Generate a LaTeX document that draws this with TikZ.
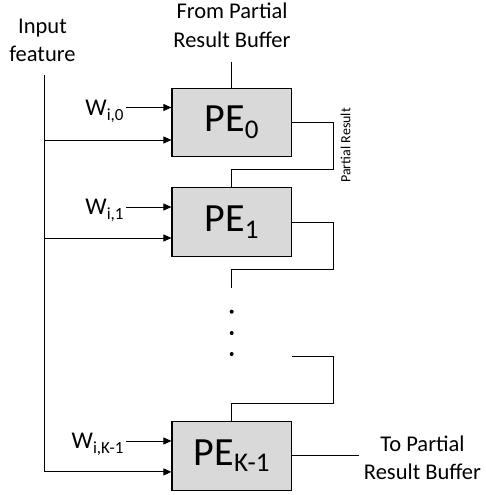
\documentclass[tikz,border=0pt]{standalone}
\usepackage{fontspec}
\setmainfont{Carlito}
\usetikzlibrary{arrows.meta}
\newcommand{\pesub}[1]{\raisebox{-6.5pt}{\fontsize{27}{27}\selectfont #1}}
\newcommand{\wsub}[1]{\raisebox{-5pt}{\fontsize{17}{17}\selectfont #1}}

\begin{document}
\begin{tikzpicture}[x=1pt, y=-1pt, line width=0.9pt,
  >={Triangle[length=8pt, width=7pt]},
  pebox/.style={draw, line width=1.1pt, fill=black!15, minimum width=119.5pt, minimum height=68.5pt,
    inner sep=0pt, font=\fontsize{40}{40}\selectfont},
  lbl/.style={font=\fontsize{22.5}{28.4}\selectfont, align=center, inner sep=2pt},
  wlbl/.style={font=\fontsize{24}{24}\selectfont, anchor=east, inner sep=2pt, text height=15pt, text depth=0pt}]
\useasboundingbox (0,0) rectangle (485,495);
\node[pebox] (pe0) at (231.7,122.5) {PE\pesub{0}};
\node[pebox] (pe1) at (231.7,222) {PE\pesub{1}};
\node[pebox] (pek) at (231.7,455.9) {PE\pesub{K-1}};
\node[lbl] (inp) at (42.5,40.5) {Input\\feature};
\node[lbl] (buf) at (232,25.4) {From Partial\\Result Buffer};
\node[lbl] (out) at (422.5,458) {To Partial\\Result Buffer};
\node[wlbl] (w0) at (126,107.5) {W\wsub{i,0}};
\node[wlbl] (w1) at (126,207) {W\wsub{i,1}};
\node[wlbl] (wk) at (126,441) {W\wsub{i,K-1}};
\node[font=\fontsize{14}{14}\selectfont, rotate=90, inner sep=0pt] (pr) at (345.5,145.5) {Partial Result};
\coordinate (ftop) at (44,75);
\coordinate (f0) at ([yshift=-17.5pt]pe0.west);
\coordinate (f1) at ([yshift=-16pt]pe1.west);
\coordinate (fk) at ([yshift=-16pt]pek.west);
\coordinate (bufin) at ([yshift=26pt]pe0.north);
\coordinate (gap1) at ([yshift=-31pt]pe1.south);
\coordinate (gap2) at ([yshift=65pt]pek.north east);
\draw[->] (w0) -- (w0 -| pe0.west);
\draw[->] (w1) -- (w1 -| pe1.west);
\draw[->] (wk) -- (wk -| pek.west);
\draw[->] (ftop) |- (fk);
\draw[->] (ftop |- f0) -- (f0);
\draw[->] (ftop |- f1) -- (f1);
\draw (bufin) -- (pe0);
\draw (pe0.east) -- ++(41.5,0) |- ([yshift=18pt]pe1.north) -- (pe1.north);
\draw (pe1.east) -- ++(41.5,0) |- ([yshift=-13pt]pe1.south) -- (gap1);
\draw (gap2) -- ++(41.5,0) |- ([yshift=18pt]pek.north) -- (pek.north);
\draw (pek.east) -- ([xshift=-3pt]pek.east -| out.west);
\foreach \y in {311.7,333,354}
  \fill (231.7,\y) circle (2);
\end{tikzpicture}
\end{document}
